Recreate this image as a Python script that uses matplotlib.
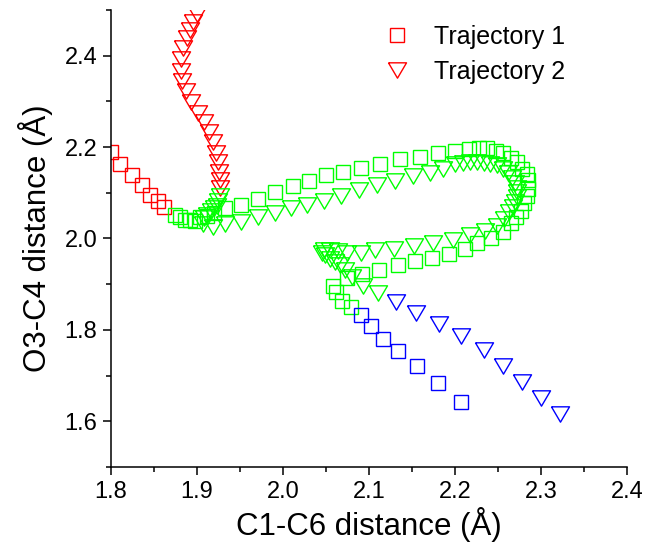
import matplotlib
matplotlib.use('Agg')
import matplotlib.pyplot as plt
from matplotlib.ticker import MultipleLocator, FormatStrFormatter

plt.rcParams['font.family'] = ['Liberation Sans', 'DejaVu Sans']

# ---------------- data ----------------
# Trajectory 1 (squares)
t1_red_x = [1.800, 1.810, 1.824, 1.836, 1.845, 1.854, 1.862]
t1_red_y = [2.189, 2.164, 2.139, 2.117, 2.096, 2.083, 2.069]

t1_green_x = [1.874, 1.880, 1.886, 1.892, 1.897, 1.903, 1.912, 1.920, 1.933, 1.951,
              1.971, 1.991, 2.012, 2.030, 2.050, 2.070, 2.091, 2.113, 2.136, 2.159,
              2.180, 2.200, 2.216, 2.228, 2.237, 2.248, 2.256, 2.265, 2.272, 2.278,
              2.283, 2.285, 2.285, 2.283, 2.280, 2.277, 2.271, 2.265, 2.256, 2.242,
              2.226, 2.212, 2.193, 2.173, 2.153, 2.133, 2.112, 2.092, 2.074, 2.058,
              2.062, 2.069, 2.079]
t1_green_y = [2.051, 2.046, 2.040, 2.040, 2.039, 2.046, 2.050, 2.055, 2.066, 2.074,
              2.087, 2.101, 2.114, 2.125, 2.138, 2.146, 2.155, 2.164, 2.173, 2.179,
              2.188, 2.192, 2.195, 2.197, 2.197, 2.192, 2.186, 2.177, 2.168, 2.153,
              2.142, 2.127, 2.109, 2.094, 2.077, 2.061, 2.048, 2.033, 2.015, 2.000,
              1.989, 1.978, 1.967, 1.958, 1.950, 1.941, 1.932, 1.923, 1.913, 1.897,
              1.882, 1.864, 1.849]

t1_blue_x = [2.090, 2.102, 2.116, 2.134, 2.156, 2.180, 2.207]
t1_blue_y = [1.832, 1.808, 1.781, 1.753, 1.720, 1.683, 1.642]

# Trajectory 2 (triangles)
t2_red_x = [1.900, 1.895, 1.892, 1.888, 1.884, 1.881, 1.881, 1.883, 1.887, 1.893,
            1.901, 1.908, 1.914, 1.919, 1.922, 1.924, 1.926, 1.927, 1.927]
t2_red_y = [2.492, 2.474, 2.457, 2.439, 2.417, 2.393, 2.367, 2.345, 2.323, 2.299,
            2.275, 2.254, 2.232, 2.210, 2.188, 2.168, 2.146, 2.129, 2.111]

t2_green_x = [1.927, 1.924, 1.923, 1.920, 1.916, 1.912, 1.908, 1.907, 1.919, 1.933,
              1.951, 1.971, 1.990, 2.009, 2.028, 2.048, 2.067, 2.088, 2.109, 2.130,
              2.151, 2.171, 2.186, 2.200, 2.209, 2.217, 2.226, 2.233, 2.241, 2.249,
              2.256, 2.262, 2.266, 2.270, 2.272, 2.272, 2.272, 2.270, 2.267, 2.263,
              2.257, 2.249, 2.235, 2.217, 2.197, 2.174, 2.152, 2.129, 2.107, 2.090,
              2.074, 2.064, 2.055, 2.048, 2.045, 2.049, 2.055, 2.060, 2.066, 2.072,
              2.080, 2.093, 2.110]
t2_green_y = [2.094, 2.083, 2.072, 2.066, 2.059, 2.052, 2.044, 2.031, 2.026, 2.031,
              2.037, 2.046, 2.055, 2.066, 2.074, 2.083, 2.094, 2.105, 2.116, 2.125,
              2.136, 2.144, 2.153, 2.164, 2.166, 2.168, 2.168, 2.166, 2.164, 2.160,
              2.151, 2.144, 2.133, 2.122, 2.111, 2.101, 2.090, 2.079, 2.068, 2.057,
              2.042, 2.028, 2.017, 2.007, 1.996, 1.989, 1.983, 1.978, 1.974, 1.969,
              1.969, 1.972, 1.974, 1.974, 1.969, 1.963, 1.956, 1.948, 1.941, 1.932,
              1.915, 1.897, 1.880]

t2_blue_x = [2.131, 2.155, 2.181, 2.207, 2.233, 2.256, 2.278, 2.300, 2.322]
t2_blue_y = [1.860, 1.836, 1.812, 1.786, 1.755, 1.722, 1.687, 1.652, 1.615]

labels = ['Trajectory 1', 'Trajectory 2']
x_ticks = [1.8, 1.9, 2.0, 2.1, 2.2, 2.3, 2.4]
y_ticks = [1.6, 1.8, 2.0, 2.2, 2.4]

# ---------------- figure ----------------
fig = plt.figure(figsize=(6.46, 5.52), dpi=100)
ax = fig.add_axes([0.172, 0.154, 0.7988, 0.828])

tri = [(-1, 0.85), (1, 0.85), (0, -0.85), (-1, 0.85)]
sq_kw = dict(ls='none', marker='s', mfc='none', ms=10, mew=1.0)
tr_kw = dict(ls='none', marker=tri, mfc='none', ms=13, mew=1.0)

RED, GREEN, BLUE = '#ff0000', '#00ff00', '#0000ff'

h1, = ax.plot(t1_red_x, t1_red_y, mec=RED, **sq_kw)
ax.plot(t1_green_x, t1_green_y, mec=GREEN, **sq_kw)
ax.plot(t1_blue_x, t1_blue_y, mec=BLUE, **sq_kw)
h2, = ax.plot(t2_red_x, t2_red_y, mec=RED, **tr_kw)
ax.plot(t2_green_x, t2_green_y, mec=GREEN, **tr_kw)
ax.plot(t2_blue_x, t2_blue_y, mec=BLUE, **tr_kw)

ax.set_xlim(1.8, 2.4)
ax.set_ylim(1.5, 2.5)
ax.set_xticks(x_ticks)
ax.set_yticks(y_ticks)
ax.xaxis.set_minor_locator(MultipleLocator(0.05))
ax.yaxis.set_minor_locator(MultipleLocator(0.1))
ax.xaxis.set_major_formatter(FormatStrFormatter('%.1f'))
ax.yaxis.set_major_formatter(FormatStrFormatter('%.1f'))

for s in ['top', 'right']:
    ax.spines[s].set_visible(False)
for s in ['left', 'bottom']:
    ax.spines[s].set_linewidth(1.1)

ax.tick_params(which='major', direction='out', length=6, width=1.1, labelsize=17, pad=4)
ax.tick_params(which='minor', direction='out', length=3.5, width=1.1)

ax.set_xlabel('C1-C6 distance (Å)', fontsize=22.5, labelpad=3)
ax.set_ylabel('O3-C4 distance (Å)', fontsize=22.5, labelpad=8)

ax.legend([h1, h2], labels, loc='upper left', bbox_to_anchor=(0.5, 1.0),
          frameon=False, fontsize=18, handlelength=1.0, handletextpad=1.0,
          labelspacing=0.45, borderaxespad=0.2)

fig.savefig('out.png', dpi=100)
